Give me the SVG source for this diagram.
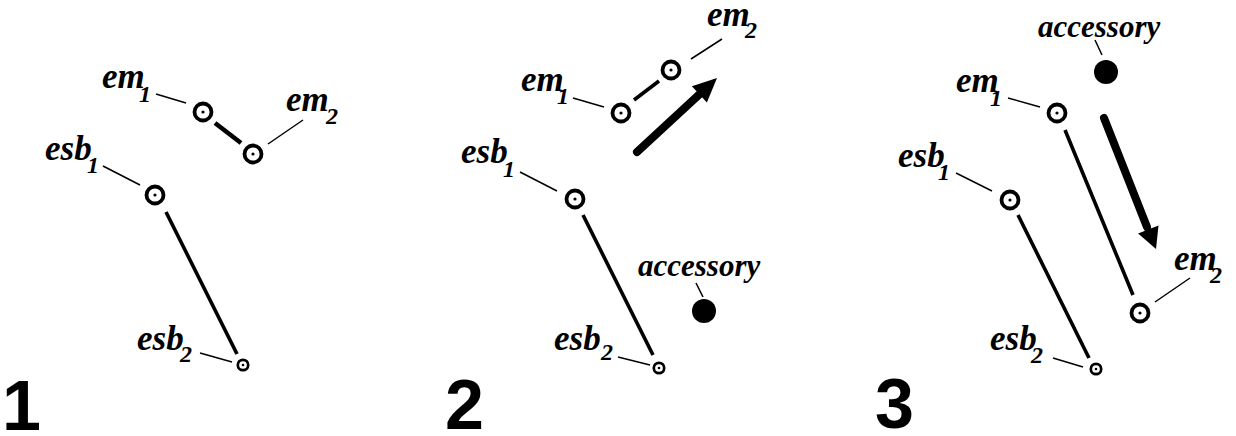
<svg xmlns="http://www.w3.org/2000/svg" width="1236" height="436" viewBox="0 0 1236 436">
<style>
.lbl{font-family:"Liberation Serif","Times New Roman",serif;font-style:italic;font-weight:bold;font-size:35px;fill:#000}
.sub{font-family:"Liberation Serif","Times New Roman",serif;font-style:italic;font-weight:bold;font-size:24px;fill:#000}
.acc{font-family:"Liberation Serif","Times New Roman",serif;font-style:italic;font-weight:bold;font-size:31px;fill:#000}
.num{font-family:"Liberation Sans",Arial,sans-serif;font-weight:bold;font-size:70px;fill:#000}
.ring{fill:#fff;stroke:#000;stroke-width:3.8}
.sring{fill:#fff;stroke:#000;stroke-width:2.7}
.dot{fill:#000}
.lead{stroke:#000;stroke-width:1.5;fill:none}
.conn{stroke:#000;stroke-width:3.6;fill:none}
.arrow{stroke:#000;stroke-width:8;fill:none;stroke-linecap:round}
</style>
<rect width="1236" height="436" fill="#fff"/>

<g id="connectors">
<line class="conn" style="stroke-width:4.6" x1="215" y1="123" x2="241" y2="143"/>
<line class="conn" x1="166" y1="212" x2="237" y2="354"/>
<line class="conn" x1="634" y1="100" x2="659" y2="81"/>
<line class="conn" x1="583" y1="215" x2="653" y2="355"/>
<line class="conn" x1="1065" y1="130" x2="1133" y2="295"/>
<line class="conn" x1="1018" y1="215" x2="1089" y2="358"/>
</g>

<g id="arrow-2">
<line class="arrow" x1="637" y1="152" x2="703" y2="91"/>
<polygon points="717,78 706.9,102.4 691.9,86.2" fill="#000"/>
</g>
<g id="arrow-3">
<line class="arrow" x1="1104" y1="118" x2="1147" y2="227"/>
<polygon points="1156,249 1158.5,225.4 1138.1,233.6" fill="#000"/>
</g>

<!-- Panel 1 -->
<g id="p1-em1">
<line class="lead" x1="156" y1="94" x2="186" y2="103"/>
<circle class="ring" cx="203" cy="112" r="8.5"/><circle class="dot" cx="203" cy="112" r="1.6"/>
<text class="lbl" x="102" y="88">em</text><text class="sub" x="139" y="102">1</text>
</g>
<g id="p1-em2">
<line class="lead" x1="303" y1="120" x2="268" y2="144"/>
<circle class="ring" cx="253" cy="154" r="8.5"/><circle class="dot" cx="253" cy="154" r="1.6"/>
<text class="lbl" x="286" y="111">em</text><text class="sub" x="326" y="124">2</text>
</g>
<g id="p1-esb1">
<line class="lead" x1="103" y1="166" x2="140" y2="185"/>
<circle class="ring" cx="155" cy="195" r="8.5"/><circle class="dot" cx="155" cy="195" r="1.6"/>
<text class="lbl" x="45" y="160">esb</text><text class="sub" x="87" y="173">1</text>
</g>
<g id="p1-esb2">
<line class="lead" x1="200" y1="353" x2="232" y2="362"/>
<circle class="sring" cx="243" cy="365" r="5.2"/><circle class="dot" cx="243" cy="365" r="1.3"/>
<text class="lbl" x="137" y="350">esb</text><text class="sub" x="180" y="362">2</text>
</g>
<text id="label-1" class="num" x="2" y="430">1</text>

<!-- Panel 2 -->
<g id="p2-em1">
<line class="lead" x1="573" y1="98" x2="604" y2="107"/>
<circle class="ring" cx="621" cy="113" r="8.5"/><circle class="dot" cx="621" cy="113" r="1.6"/>
<text class="lbl" x="521" y="91">em</text><text class="sub" x="557" y="104">1</text>
</g>
<g id="p2-em2">
<line class="lead" x1="691" y1="59" x2="722" y2="39"/>
<circle class="ring" cx="671" cy="70" r="8.5"/><circle class="dot" cx="671" cy="70" r="1.6"/>
<text class="lbl" x="707" y="26">em</text><text class="sub" x="745" y="38">2</text>
</g>
<g id="p2-esb1">
<line class="lead" x1="520" y1="172" x2="557" y2="191"/>
<circle class="ring" cx="575" cy="199" r="8.5"/><circle class="dot" cx="575" cy="199" r="1.6"/>
<text class="lbl" x="461" y="163">esb</text><text class="sub" x="503" y="177">1</text>
</g>
<g id="p2-esb2">
<line class="lead" x1="618" y1="357" x2="650" y2="365"/>
<circle class="sring" cx="659" cy="368" r="5.2"/><circle class="dot" cx="659" cy="368" r="1.3"/>
<text class="lbl" x="554" y="350">esb</text><text class="sub" x="601" y="360">2</text>
</g>
<g id="p2-accessory">
<line class="lead" x1="696" y1="283" x2="703" y2="297"/>
<circle class="dot" cx="704" cy="311" r="12"/>
<text class="acc" x="638" y="276">accessory</text>
</g>
<text id="label-2" class="num" x="445" y="429">2</text>

<!-- Panel 3 -->
<g id="p3-accessory">
<line class="lead" x1="1095" y1="40" x2="1102" y2="55"/>
<circle class="dot" cx="1106" cy="72" r="12"/>
<text class="acc" x="1038" y="37">accessory</text>
</g>
<g id="p3-em1">
<line class="lead" x1="1008" y1="98" x2="1040" y2="107"/>
<circle class="ring" cx="1057" cy="113" r="8.5"/><circle class="dot" cx="1057" cy="113" r="1.6"/>
<text class="lbl" x="956" y="92">em</text><text class="sub" x="990" y="106">1</text>
</g>
<g id="p3-em2">
<line class="lead" x1="1155" y1="302" x2="1190" y2="278"/>
<circle class="ring" cx="1140" cy="313" r="8.5"/><circle class="dot" cx="1140" cy="313" r="1.6"/>
<text class="lbl" x="1174" y="270">em</text><text class="sub" x="1210" y="283">2</text>
</g>
<g id="p3-esb1">
<line class="lead" x1="956" y1="173" x2="992" y2="191"/>
<circle class="ring" cx="1010" cy="200" r="8.5"/><circle class="dot" cx="1010" cy="200" r="1.6"/>
<text class="lbl" x="898" y="167">esb</text><text class="sub" x="938" y="180">1</text>
</g>
<g id="p3-esb2">
<line class="lead" x1="1053" y1="358" x2="1083" y2="367"/>
<circle class="sring" cx="1096" cy="369" r="5.2"/><circle class="dot" cx="1096" cy="369" r="1.3"/>
<text class="lbl" x="990" y="350">esb</text><text class="sub" x="1031" y="363">2</text>
</g>
<text id="label-3" class="num" x="875" y="428">3</text>
</svg>
